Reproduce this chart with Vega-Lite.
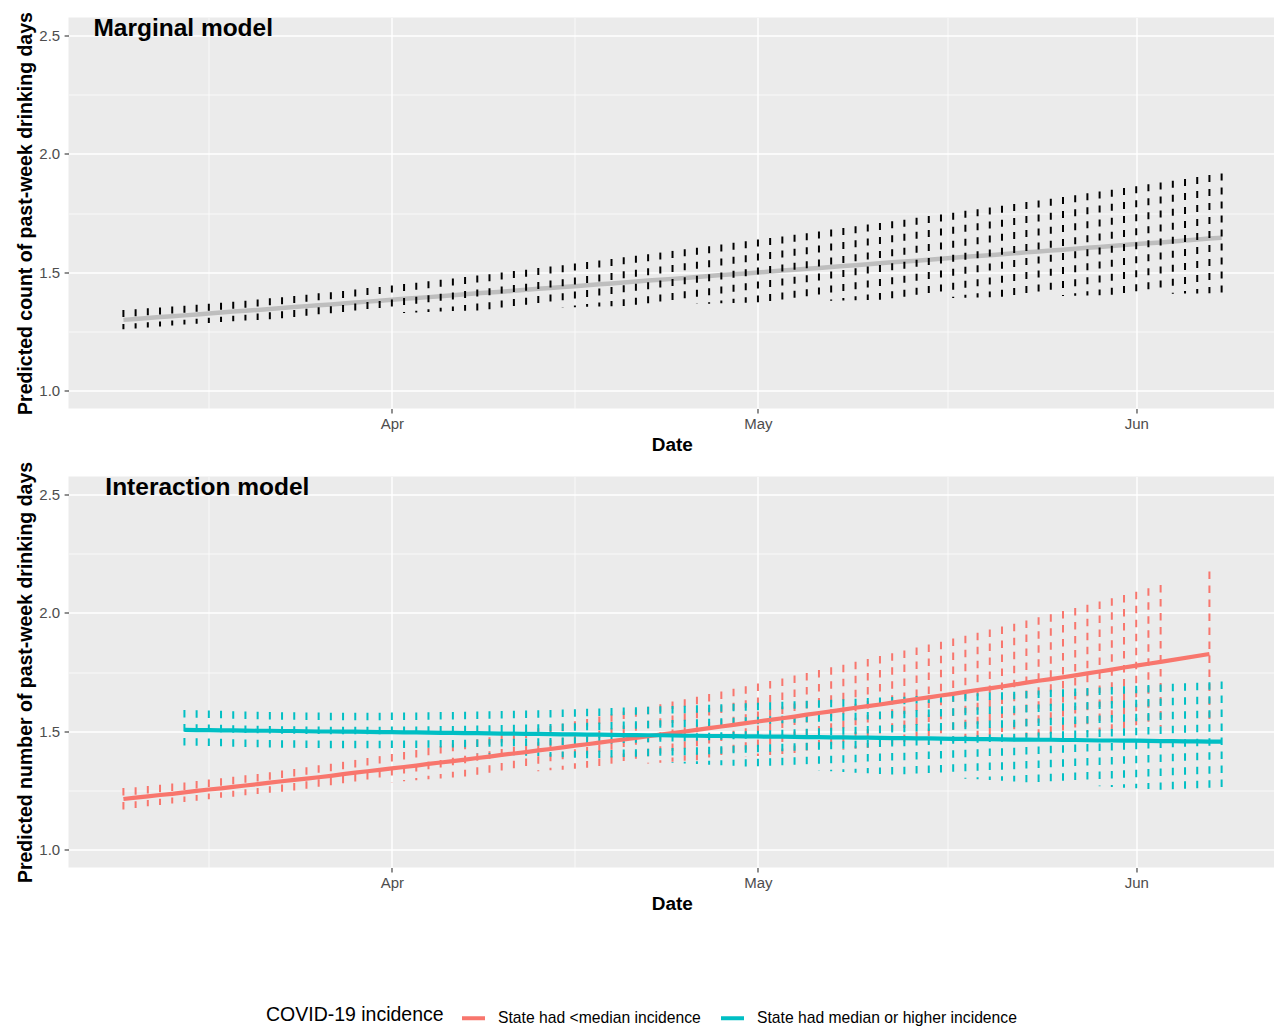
{
"$schema":"https://vega.github.io/schema/vega-lite/v6.json",
"background":"white",
"padding":{"left":15.5,"top":10.5,"right":0,"bottom":114},
"autosize":{"type":"pad"},
"spacing":68,
"bounds":"flush",
"config":{
 "font":"Liberation Sans",
 "view":{"fill":"#EBEBEB","stroke":null},
 "axis":{"domain":false,"labelColor":"#4D4D4D","labelFontSize":15,"labelFont":"Liberation Sans","tickColor":"#333333","tickSize":4.4,"tickWidth":1.1,"titleColor":"#000000","titleFont":"Liberation Sans","titleFontWeight":"bold","titleFontSize":19.5,"gridColor":"#FFFFFF","labelOverlap":false,"labelFlush":false},
 "axisX":{"labelPadding":4,"titlePadding":4,"titleFontSize":19},
 "axisY":{"labelPadding":4.4,"titlePadding":3}
},
"datasets":{
"marginal":[
{"date":"2020-03-10","est":1.299,"lo":1.259,"hi":1.341},
{"date":"2020-03-11","est":1.303,"lo":1.263,"hi":1.344},
{"date":"2020-03-12","est":1.307,"lo":1.267,"hi":1.348},
{"date":"2020-03-13","est":1.311,"lo":1.271,"hi":1.351},
{"date":"2020-03-14","est":1.314,"lo":1.275,"hi":1.355},
{"date":"2020-03-15","est":1.318,"lo":1.279,"hi":1.359},
{"date":"2020-03-16","est":1.322,"lo":1.283,"hi":1.363},
{"date":"2020-03-17","est":1.326,"lo":1.286,"hi":1.367},
{"date":"2020-03-18","est":1.330,"lo":1.290,"hi":1.371},
{"date":"2020-03-19","est":1.334,"lo":1.293,"hi":1.376},
{"date":"2020-03-20","est":1.338,"lo":1.296,"hi":1.380},
{"date":"2020-03-21","est":1.341,"lo":1.299,"hi":1.385},
{"date":"2020-03-22","est":1.345,"lo":1.302,"hi":1.390},
{"date":"2020-03-23","est":1.349,"lo":1.305,"hi":1.395},
{"date":"2020-03-24","est":1.353,"lo":1.307,"hi":1.400},
{"date":"2020-03-25","est":1.357,"lo":1.310,"hi":1.405},
{"date":"2020-03-26","est":1.361,"lo":1.313,"hi":1.411},
{"date":"2020-03-27","est":1.364,"lo":1.315,"hi":1.416},
{"date":"2020-03-28","est":1.368,"lo":1.317,"hi":1.421},
{"date":"2020-03-29","est":1.372,"lo":1.320,"hi":1.427},
{"date":"2020-03-30","est":1.376,"lo":1.322,"hi":1.433},
{"date":"2020-03-31","est":1.380,"lo":1.324,"hi":1.438},
{"date":"2020-04-01","est":1.384,"lo":1.326,"hi":1.444},
{"date":"2020-04-02","est":1.388,"lo":1.328,"hi":1.450},
{"date":"2020-04-03","est":1.391,"lo":1.330,"hi":1.456},
{"date":"2020-04-04","est":1.395,"lo":1.332,"hi":1.462},
{"date":"2020-04-05","est":1.399,"lo":1.334,"hi":1.468},
{"date":"2020-04-06","est":1.403,"lo":1.336,"hi":1.474},
{"date":"2020-04-07","est":1.407,"lo":1.337,"hi":1.480},
{"date":"2020-04-08","est":1.411,"lo":1.339,"hi":1.486},
{"date":"2020-04-09","est":1.415,"lo":1.341,"hi":1.492},
{"date":"2020-04-10","est":1.418,"lo":1.343,"hi":1.499},
{"date":"2020-04-11","est":1.422,"lo":1.344,"hi":1.505},
{"date":"2020-04-12","est":1.426,"lo":1.346,"hi":1.511},
{"date":"2020-04-13","est":1.430,"lo":1.347,"hi":1.518},
{"date":"2020-04-14","est":1.434,"lo":1.349,"hi":1.524},
{"date":"2020-04-15","est":1.438,"lo":1.351,"hi":1.530},
{"date":"2020-04-16","est":1.441,"lo":1.352,"hi":1.537},
{"date":"2020-04-17","est":1.445,"lo":1.354,"hi":1.543},
{"date":"2020-04-18","est":1.449,"lo":1.355,"hi":1.550},
{"date":"2020-04-19","est":1.453,"lo":1.356,"hi":1.556},
{"date":"2020-04-20","est":1.457,"lo":1.358,"hi":1.563},
{"date":"2020-04-21","est":1.461,"lo":1.359,"hi":1.570},
{"date":"2020-04-22","est":1.465,"lo":1.361,"hi":1.576},
{"date":"2020-04-23","est":1.468,"lo":1.362,"hi":1.583},
{"date":"2020-04-24","est":1.472,"lo":1.363,"hi":1.590},
{"date":"2020-04-25","est":1.476,"lo":1.365,"hi":1.597},
{"date":"2020-04-26","est":1.480,"lo":1.366,"hi":1.603},
{"date":"2020-04-27","est":1.484,"lo":1.367,"hi":1.610},
{"date":"2020-04-28","est":1.488,"lo":1.369,"hi":1.617},
{"date":"2020-04-29","est":1.492,"lo":1.370,"hi":1.624},
{"date":"2020-04-30","est":1.495,"lo":1.371,"hi":1.631},
{"date":"2020-05-01","est":1.499,"lo":1.373,"hi":1.638},
{"date":"2020-05-02","est":1.503,"lo":1.374,"hi":1.645},
{"date":"2020-05-03","est":1.507,"lo":1.375,"hi":1.651},
{"date":"2020-05-04","est":1.511,"lo":1.376,"hi":1.658},
{"date":"2020-05-05","est":1.515,"lo":1.377,"hi":1.665},
{"date":"2020-05-06","est":1.518,"lo":1.379,"hi":1.672},
{"date":"2020-05-07","est":1.522,"lo":1.380,"hi":1.680},
{"date":"2020-05-08","est":1.526,"lo":1.381,"hi":1.687},
{"date":"2020-05-09","est":1.530,"lo":1.382,"hi":1.694},
{"date":"2020-05-10","est":1.534,"lo":1.383,"hi":1.701},
{"date":"2020-05-11","est":1.538,"lo":1.384,"hi":1.708},
{"date":"2020-05-12","est":1.542,"lo":1.386,"hi":1.715},
{"date":"2020-05-13","est":1.545,"lo":1.387,"hi":1.722},
{"date":"2020-05-14","est":1.549,"lo":1.388,"hi":1.730},
{"date":"2020-05-15","est":1.553,"lo":1.389,"hi":1.737},
{"date":"2020-05-16","est":1.557,"lo":1.390,"hi":1.744},
{"date":"2020-05-17","est":1.561,"lo":1.391,"hi":1.751},
{"date":"2020-05-18","est":1.565,"lo":1.392,"hi":1.759},
{"date":"2020-05-19","est":1.569,"lo":1.393,"hi":1.766},
{"date":"2020-05-20","est":1.572,"lo":1.394,"hi":1.773},
{"date":"2020-05-21","est":1.576,"lo":1.395,"hi":1.781},
{"date":"2020-05-22","est":1.580,"lo":1.396,"hi":1.788},
{"date":"2020-05-23","est":1.584,"lo":1.397,"hi":1.796},
{"date":"2020-05-24","est":1.588,"lo":1.398,"hi":1.803},
{"date":"2020-05-25","est":1.592,"lo":1.399,"hi":1.810},
{"date":"2020-05-26","est":1.595,"lo":1.400,"hi":1.818},
{"date":"2020-05-27","est":1.599,"lo":1.401,"hi":1.825},
{"date":"2020-05-28","est":1.603,"lo":1.402,"hi":1.833},
{"date":"2020-05-29","est":1.607,"lo":1.403,"hi":1.841},
{"date":"2020-05-30","est":1.611,"lo":1.404,"hi":1.848},
{"date":"2020-05-31","est":1.615,"lo":1.405,"hi":1.856},
{"date":"2020-06-01","est":1.619,"lo":1.406,"hi":1.863},
{"date":"2020-06-02","est":1.622,"lo":1.407,"hi":1.871},
{"date":"2020-06-03","est":1.626,"lo":1.408,"hi":1.879},
{"date":"2020-06-04","est":1.630,"lo":1.409,"hi":1.886},
{"date":"2020-06-05","est":1.634,"lo":1.410,"hi":1.894},
{"date":"2020-06-06","est":1.638,"lo":1.410,"hi":1.902},
{"date":"2020-06-07","est":1.642,"lo":1.411,"hi":1.910},
{"date":"2020-06-08","est":1.646,"lo":1.412,"hi":1.917}
],
"interaction":[
{"date":"2020-03-10","group":"State had <median incidence","est":1.214,"lo":1.170,"hi":1.260},
{"date":"2020-03-11","group":"State had <median incidence","est":1.220,"lo":1.176,"hi":1.264},
{"date":"2020-03-12","group":"State had <median incidence","est":1.225,"lo":1.183,"hi":1.269},
{"date":"2020-03-13","group":"State had <median incidence","est":1.231,"lo":1.189,"hi":1.274},
{"date":"2020-03-14","group":"State had <median incidence","est":1.236,"lo":1.195,"hi":1.279},
{"date":"2020-03-15","group":"State had <median incidence","est":1.242,"lo":1.201,"hi":1.284},
{"date":"2020-03-16","group":"State had <median incidence","est":1.248,"lo":1.207,"hi":1.290},
{"date":"2020-03-17","group":"State had <median incidence","est":1.254,"lo":1.213,"hi":1.296},
{"date":"2020-03-18","group":"State had <median incidence","est":1.259,"lo":1.219,"hi":1.302},
{"date":"2020-03-19","group":"State had <median incidence","est":1.265,"lo":1.224,"hi":1.308},
{"date":"2020-03-20","group":"State had <median incidence","est":1.271,"lo":1.230,"hi":1.314},
{"date":"2020-03-21","group":"State had <median incidence","est":1.277,"lo":1.235,"hi":1.320},
{"date":"2020-03-22","group":"State had <median incidence","est":1.283,"lo":1.240,"hi":1.327},
{"date":"2020-03-23","group":"State had <median incidence","est":1.289,"lo":1.245,"hi":1.334},
{"date":"2020-03-24","group":"State had <median incidence","est":1.295,"lo":1.250,"hi":1.341},
{"date":"2020-03-25","group":"State had <median incidence","est":1.300,"lo":1.255,"hi":1.348},
{"date":"2020-03-26","group":"State had <median incidence","est":1.306,"lo":1.259,"hi":1.356},
{"date":"2020-03-27","group":"State had <median incidence","est":1.312,"lo":1.264,"hi":1.363},
{"date":"2020-03-28","group":"State had <median incidence","est":1.319,"lo":1.268,"hi":1.371},
{"date":"2020-03-29","group":"State had <median incidence","est":1.325,"lo":1.272,"hi":1.379},
{"date":"2020-03-30","group":"State had <median incidence","est":1.331,"lo":1.277,"hi":1.387},
{"date":"2020-03-31","group":"State had <median incidence","est":1.337,"lo":1.281,"hi":1.395},
{"date":"2020-04-01","group":"State had <median incidence","est":1.343,"lo":1.285,"hi":1.404},
{"date":"2020-04-02","group":"State had <median incidence","est":1.349,"lo":1.289,"hi":1.412},
{"date":"2020-04-03","group":"State had <median incidence","est":1.355,"lo":1.293,"hi":1.421},
{"date":"2020-04-04","group":"State had <median incidence","est":1.362,"lo":1.297,"hi":1.430},
{"date":"2020-04-05","group":"State had <median incidence","est":1.368,"lo":1.301,"hi":1.438},
{"date":"2020-04-06","group":"State had <median incidence","est":1.374,"lo":1.305,"hi":1.447},
{"date":"2020-04-07","group":"State had <median incidence","est":1.380,"lo":1.309,"hi":1.456},
{"date":"2020-04-08","group":"State had <median incidence","est":1.387,"lo":1.312,"hi":1.466},
{"date":"2020-04-09","group":"State had <median incidence","est":1.393,"lo":1.316,"hi":1.475},
{"date":"2020-04-10","group":"State had <median incidence","est":1.400,"lo":1.320,"hi":1.484},
{"date":"2020-04-11","group":"State had <median incidence","est":1.406,"lo":1.324,"hi":1.494},
{"date":"2020-04-12","group":"State had <median incidence","est":1.412,"lo":1.327,"hi":1.503},
{"date":"2020-04-13","group":"State had <median incidence","est":1.419,"lo":1.331,"hi":1.513},
{"date":"2020-04-14","group":"State had <median incidence","est":1.425,"lo":1.335,"hi":1.523},
{"date":"2020-04-15","group":"State had <median incidence","est":1.432,"lo":1.338,"hi":1.532},
{"date":"2020-04-16","group":"State had <median incidence","est":1.439,"lo":1.342,"hi":1.542},
{"date":"2020-04-17","group":"State had <median incidence","est":1.445,"lo":1.346,"hi":1.552},
{"date":"2020-04-18","group":"State had <median incidence","est":1.452,"lo":1.349,"hi":1.562},
{"date":"2020-04-19","group":"State had <median incidence","est":1.459,"lo":1.353,"hi":1.572},
{"date":"2020-04-20","group":"State had <median incidence","est":1.465,"lo":1.357,"hi":1.583},
{"date":"2020-04-21","group":"State had <median incidence","est":1.472,"lo":1.360,"hi":1.593},
{"date":"2020-04-22","group":"State had <median incidence","est":1.479,"lo":1.364,"hi":1.603},
{"date":"2020-04-23","group":"State had <median incidence","est":1.486,"lo":1.367,"hi":1.614},
{"date":"2020-04-24","group":"State had <median incidence","est":1.492,"lo":1.371,"hi":1.625},
{"date":"2020-04-25","group":"State had <median incidence","est":1.499,"lo":1.375,"hi":1.635},
{"date":"2020-04-26","group":"State had <median incidence","est":1.506,"lo":1.378,"hi":1.646},
{"date":"2020-04-27","group":"State had <median incidence","est":1.513,"lo":1.382,"hi":1.657},
{"date":"2020-04-28","group":"State had <median incidence","est":1.520,"lo":1.386,"hi":1.668},
{"date":"2020-04-29","group":"State had <median incidence","est":1.527,"lo":1.389,"hi":1.679},
{"date":"2020-04-30","group":"State had <median incidence","est":1.534,"lo":1.393,"hi":1.690},
{"date":"2020-05-01","group":"State had <median incidence","est":1.541,"lo":1.396,"hi":1.701},
{"date":"2020-05-02","group":"State had <median incidence","est":1.548,"lo":1.400,"hi":1.712},
{"date":"2020-05-03","group":"State had <median incidence","est":1.555,"lo":1.404,"hi":1.723},
{"date":"2020-05-04","group":"State had <median incidence","est":1.562,"lo":1.407,"hi":1.735},
{"date":"2020-05-05","group":"State had <median incidence","est":1.570,"lo":1.411,"hi":1.746},
{"date":"2020-05-06","group":"State had <median incidence","est":1.577,"lo":1.415,"hi":1.758},
{"date":"2020-05-07","group":"State had <median incidence","est":1.584,"lo":1.418,"hi":1.770},
{"date":"2020-05-08","group":"State had <median incidence","est":1.591,"lo":1.422,"hi":1.781},
{"date":"2020-05-09","group":"State had <median incidence","est":1.599,"lo":1.426,"hi":1.793},
{"date":"2020-05-10","group":"State had <median incidence","est":1.606,"lo":1.429,"hi":1.805},
{"date":"2020-05-11","group":"State had <median incidence","est":1.613,"lo":1.433,"hi":1.817},
{"date":"2020-05-12","group":"State had <median incidence","est":1.621,"lo":1.436,"hi":1.829},
{"date":"2020-05-13","group":"State had <median incidence","est":1.628,"lo":1.440,"hi":1.841},
{"date":"2020-05-14","group":"State had <median incidence","est":1.636,"lo":1.444,"hi":1.853},
{"date":"2020-05-15","group":"State had <median incidence","est":1.643,"lo":1.448,"hi":1.866},
{"date":"2020-05-16","group":"State had <median incidence","est":1.651,"lo":1.451,"hi":1.878},
{"date":"2020-05-17","group":"State had <median incidence","est":1.658,"lo":1.455,"hi":1.891},
{"date":"2020-05-18","group":"State had <median incidence","est":1.666,"lo":1.459,"hi":1.903},
{"date":"2020-05-19","group":"State had <median incidence","est":1.674,"lo":1.462,"hi":1.916},
{"date":"2020-05-20","group":"State had <median incidence","est":1.681,"lo":1.466,"hi":1.929},
{"date":"2020-05-21","group":"State had <median incidence","est":1.689,"lo":1.470,"hi":1.942},
{"date":"2020-05-22","group":"State had <median incidence","est":1.697,"lo":1.473,"hi":1.954},
{"date":"2020-05-23","group":"State had <median incidence","est":1.705,"lo":1.477,"hi":1.967},
{"date":"2020-05-24","group":"State had <median incidence","est":1.713,"lo":1.481,"hi":1.981},
{"date":"2020-05-25","group":"State had <median incidence","est":1.720,"lo":1.485,"hi":1.994},
{"date":"2020-05-26","group":"State had <median incidence","est":1.728,"lo":1.488,"hi":2.007},
{"date":"2020-05-27","group":"State had <median incidence","est":1.736,"lo":1.492,"hi":2.020},
{"date":"2020-05-28","group":"State had <median incidence","est":1.744,"lo":1.496,"hi":2.034},
{"date":"2020-05-29","group":"State had <median incidence","est":1.752,"lo":1.500,"hi":2.048},
{"date":"2020-05-30","group":"State had <median incidence","est":1.760,"lo":1.504,"hi":2.061},
{"date":"2020-05-31","group":"State had <median incidence","est":1.769,"lo":1.507,"hi":2.075},
{"date":"2020-06-01","group":"State had <median incidence","est":1.777,"lo":1.511,"hi":2.089},
{"date":"2020-06-02","group":"State had <median incidence","est":1.785,"lo":1.515,"hi":2.103},
{"date":"2020-06-03","group":"State had <median incidence","est":1.793,"lo":1.519,"hi":2.117},
{"date":"2020-06-07","group":"State had <median incidence","est":1.826,"lo":1.534,"hi":2.174},
{"date":"2020-03-15","group":"State had median or higher incidence","est":1.506,"lo":1.426,"hi":1.590},
{"date":"2020-03-16","group":"State had median or higher incidence","est":1.505,"lo":1.427,"hi":1.589},
{"date":"2020-03-17","group":"State had median or higher incidence","est":1.505,"lo":1.427,"hi":1.587},
{"date":"2020-03-18","group":"State had median or higher incidence","est":1.504,"lo":1.427,"hi":1.586},
{"date":"2020-03-19","group":"State had median or higher incidence","est":1.504,"lo":1.427,"hi":1.584},
{"date":"2020-03-20","group":"State had median or higher incidence","est":1.503,"lo":1.427,"hi":1.583},
{"date":"2020-03-21","group":"State had median or higher incidence","est":1.502,"lo":1.427,"hi":1.582},
{"date":"2020-03-22","group":"State had median or higher incidence","est":1.502,"lo":1.426,"hi":1.581},
{"date":"2020-03-23","group":"State had median or higher incidence","est":1.501,"lo":1.426,"hi":1.580},
{"date":"2020-03-24","group":"State had median or higher incidence","est":1.501,"lo":1.425,"hi":1.580},
{"date":"2020-03-25","group":"State had median or higher incidence","est":1.500,"lo":1.425,"hi":1.579},
{"date":"2020-03-26","group":"State had median or higher incidence","est":1.499,"lo":1.424,"hi":1.579},
{"date":"2020-03-27","group":"State had median or higher incidence","est":1.499,"lo":1.423,"hi":1.578},
{"date":"2020-03-28","group":"State had median or higher incidence","est":1.498,"lo":1.422,"hi":1.578},
{"date":"2020-03-29","group":"State had median or higher incidence","est":1.498,"lo":1.421,"hi":1.578},
{"date":"2020-03-30","group":"State had median or higher incidence","est":1.497,"lo":1.420,"hi":1.578},
{"date":"2020-03-31","group":"State had median or higher incidence","est":1.496,"lo":1.419,"hi":1.578},
{"date":"2020-04-01","group":"State had median or higher incidence","est":1.496,"lo":1.417,"hi":1.579},
{"date":"2020-04-02","group":"State had median or higher incidence","est":1.495,"lo":1.416,"hi":1.579},
{"date":"2020-04-03","group":"State had median or higher incidence","est":1.495,"lo":1.414,"hi":1.579},
{"date":"2020-04-04","group":"State had median or higher incidence","est":1.494,"lo":1.413,"hi":1.580},
{"date":"2020-04-05","group":"State had median or higher incidence","est":1.493,"lo":1.411,"hi":1.581},
{"date":"2020-04-06","group":"State had median or higher incidence","est":1.493,"lo":1.409,"hi":1.581},
{"date":"2020-04-07","group":"State had median or higher incidence","est":1.492,"lo":1.407,"hi":1.582},
{"date":"2020-04-08","group":"State had median or higher incidence","est":1.492,"lo":1.405,"hi":1.583},
{"date":"2020-04-09","group":"State had median or higher incidence","est":1.491,"lo":1.403,"hi":1.584},
{"date":"2020-04-10","group":"State had median or higher incidence","est":1.490,"lo":1.401,"hi":1.585},
{"date":"2020-04-11","group":"State had median or higher incidence","est":1.490,"lo":1.399,"hi":1.586},
{"date":"2020-04-12","group":"State had median or higher incidence","est":1.489,"lo":1.397,"hi":1.588},
{"date":"2020-04-13","group":"State had median or higher incidence","est":1.489,"lo":1.395,"hi":1.589},
{"date":"2020-04-14","group":"State had median or higher incidence","est":1.488,"lo":1.392,"hi":1.590},
{"date":"2020-04-15","group":"State had median or higher incidence","est":1.487,"lo":1.390,"hi":1.592},
{"date":"2020-04-16","group":"State had median or higher incidence","est":1.487,"lo":1.388,"hi":1.593},
{"date":"2020-04-17","group":"State had median or higher incidence","est":1.486,"lo":1.385,"hi":1.595},
{"date":"2020-04-18","group":"State had median or higher incidence","est":1.486,"lo":1.383,"hi":1.596},
{"date":"2020-04-19","group":"State had median or higher incidence","est":1.485,"lo":1.380,"hi":1.598},
{"date":"2020-04-20","group":"State had median or higher incidence","est":1.484,"lo":1.378,"hi":1.600},
{"date":"2020-04-21","group":"State had median or higher incidence","est":1.484,"lo":1.375,"hi":1.601},
{"date":"2020-04-22","group":"State had median or higher incidence","est":1.483,"lo":1.372,"hi":1.603},
{"date":"2020-04-23","group":"State had median or higher incidence","est":1.483,"lo":1.370,"hi":1.605},
{"date":"2020-04-24","group":"State had median or higher incidence","est":1.482,"lo":1.367,"hi":1.607},
{"date":"2020-04-25","group":"State had median or higher incidence","est":1.481,"lo":1.364,"hi":1.608},
{"date":"2020-04-26","group":"State had median or higher incidence","est":1.481,"lo":1.362,"hi":1.610},
{"date":"2020-04-27","group":"State had median or higher incidence","est":1.480,"lo":1.359,"hi":1.612},
{"date":"2020-04-28","group":"State had median or higher incidence","est":1.480,"lo":1.356,"hi":1.614},
{"date":"2020-04-29","group":"State had median or higher incidence","est":1.479,"lo":1.354,"hi":1.616},
{"date":"2020-04-30","group":"State had median or higher incidence","est":1.478,"lo":1.351,"hi":1.618},
{"date":"2020-05-01","group":"State had median or higher incidence","est":1.478,"lo":1.348,"hi":1.620},
{"date":"2020-05-02","group":"State had median or higher incidence","est":1.477,"lo":1.345,"hi":1.622},
{"date":"2020-05-03","group":"State had median or higher incidence","est":1.477,"lo":1.342,"hi":1.624},
{"date":"2020-05-04","group":"State had median or higher incidence","est":1.476,"lo":1.340,"hi":1.627},
{"date":"2020-05-05","group":"State had median or higher incidence","est":1.475,"lo":1.337,"hi":1.629},
{"date":"2020-05-06","group":"State had median or higher incidence","est":1.475,"lo":1.334,"hi":1.631},
{"date":"2020-05-07","group":"State had median or higher incidence","est":1.474,"lo":1.331,"hi":1.633},
{"date":"2020-05-08","group":"State had median or higher incidence","est":1.474,"lo":1.328,"hi":1.635},
{"date":"2020-05-09","group":"State had median or higher incidence","est":1.473,"lo":1.325,"hi":1.637},
{"date":"2020-05-10","group":"State had median or higher incidence","est":1.473,"lo":1.323,"hi":1.640},
{"date":"2020-05-11","group":"State had median or higher incidence","est":1.472,"lo":1.320,"hi":1.642},
{"date":"2020-05-12","group":"State had median or higher incidence","est":1.471,"lo":1.317,"hi":1.644},
{"date":"2020-05-13","group":"State had median or higher incidence","est":1.471,"lo":1.314,"hi":1.646},
{"date":"2020-05-14","group":"State had median or higher incidence","est":1.470,"lo":1.311,"hi":1.649},
{"date":"2020-05-15","group":"State had median or higher incidence","est":1.470,"lo":1.308,"hi":1.651},
{"date":"2020-05-16","group":"State had median or higher incidence","est":1.469,"lo":1.305,"hi":1.653},
{"date":"2020-05-17","group":"State had median or higher incidence","est":1.468,"lo":1.302,"hi":1.656},
{"date":"2020-05-18","group":"State had median or higher incidence","est":1.468,"lo":1.300,"hi":1.658},
{"date":"2020-05-19","group":"State had median or higher incidence","est":1.467,"lo":1.297,"hi":1.660},
{"date":"2020-05-20","group":"State had median or higher incidence","est":1.467,"lo":1.294,"hi":1.663},
{"date":"2020-05-21","group":"State had median or higher incidence","est":1.466,"lo":1.291,"hi":1.665},
{"date":"2020-05-22","group":"State had median or higher incidence","est":1.465,"lo":1.288,"hi":1.667},
{"date":"2020-05-23","group":"State had median or higher incidence","est":1.465,"lo":1.285,"hi":1.670},
{"date":"2020-05-24","group":"State had median or higher incidence","est":1.464,"lo":1.282,"hi":1.672},
{"date":"2020-05-25","group":"State had median or higher incidence","est":1.464,"lo":1.279,"hi":1.675},
{"date":"2020-05-26","group":"State had median or higher incidence","est":1.463,"lo":1.276,"hi":1.677},
{"date":"2020-05-27","group":"State had median or higher incidence","est":1.463,"lo":1.274,"hi":1.680},
{"date":"2020-05-28","group":"State had median or higher incidence","est":1.462,"lo":1.271,"hi":1.682},
{"date":"2020-05-29","group":"State had median or higher incidence","est":1.461,"lo":1.268,"hi":1.685},
{"date":"2020-05-30","group":"State had median or higher incidence","est":1.461,"lo":1.265,"hi":1.687},
{"date":"2020-05-31","group":"State had median or higher incidence","est":1.460,"lo":1.262,"hi":1.690},
{"date":"2020-06-01","group":"State had median or higher incidence","est":1.460,"lo":1.259,"hi":1.692},
{"date":"2020-06-02","group":"State had median or higher incidence","est":1.459,"lo":1.256,"hi":1.695},
{"date":"2020-06-03","group":"State had median or higher incidence","est":1.458,"lo":1.253,"hi":1.697},
{"date":"2020-06-04","group":"State had median or higher incidence","est":1.458,"lo":1.251,"hi":1.700},
{"date":"2020-06-05","group":"State had median or higher incidence","est":1.457,"lo":1.248,"hi":1.702},
{"date":"2020-06-06","group":"State had median or higher incidence","est":1.457,"lo":1.245,"hi":1.705},
{"date":"2020-06-07","group":"State had median or higher incidence","est":1.456,"lo":1.242,"hi":1.707},
{"date":"2020-06-08","group":"State had median or higher incidence","est":1.456,"lo":1.239,"hi":1.710}
]
},
"vconcat":[
{
 "width":1206.7,"height":391,
 "layer":[
  {"data":{"name":"marginal"},
   "mark":{"type":"line","color":"#BEBEBE","strokeWidth":4.5},
   "encoding":{
    "x":{"field":"date","type":"temporal","title":"Date",
      "scale":{"type":"utc","domain":[{"year":2020,"month":3,"date":5,"hours":12,"utc":true},{"year":2020,"month":6,"date":12,"hours":9,"minutes":20,"utc":true}]},
      "axis":{"values":[{"year":2020,"month":3,"date":17,"utc":true},{"year":2020,"month":4,"date":1,"utc":true},{"year":2020,"month":4,"date":16,"utc":true},{"year":2020,"month":5,"date":1,"utc":true},{"year":2020,"month":5,"date":16,"hours":12,"utc":true},{"year":2020,"month":6,"date":1,"utc":true}],
        "labelExpr":"(utcdate(datum.value)==1) ? utcFormat(datum.value,'%b') : ''",
        "gridWidth":{"condition":{"test":"utcdate(datum.value)==1","value":1.4},"value":0.7},
        "tickOpacity":{"condition":{"test":"utcdate(datum.value)==1","value":1},"value":0}}},
    "y":{"field":"est","type":"quantitative","title":"Predicted count of past-week drinking days",
      "scale":{"domain":[0.925,2.575],"nice":false,"zero":false},
      "axis":{"values":[1,1.25,1.5,1.75,2,2.25,2.5],
        "labelExpr":"((datum.value*4)%2==0) ? format(datum.value,'.1f') : ''",
        "gridWidth":{"condition":{"test":"(datum.value*4)%2==0","value":1.4},"value":0.7},
        "tickOpacity":{"condition":{"test":"(datum.value*4)%2==0","value":1},"value":0}}}
   }},
  {"data":{"name":"marginal"},
   "mark":{"type":"rule","color":"#000000","strokeWidth":2,"strokeDash":[7,7]},
   "encoding":{
    "x":{"field":"date","type":"temporal","title":"Date","scale":{"type":"utc","domain":[{"year":2020,"month":3,"date":5,"hours":12,"utc":true},{"year":2020,"month":6,"date":12,"hours":9,"minutes":20,"utc":true}]}},
    "y":{"field":"hi","type":"quantitative","title":"Predicted count of past-week drinking days","scale":{"domain":[0.925,2.575],"nice":false,"zero":false}},
    "y2":{"field":"lo"}
   }},
  {"data":{"values":[{"date":"2020-03-07T13:00:00Z","est":2.495,"label":"Marginal model"}]},
   "mark":{"type":"text","align":"left","baseline":"alphabetic","fontSize":24.5,"fontWeight":"bold","font":"Liberation Sans","color":"#000000"},
   "encoding":{
    "x":{"field":"date","type":"temporal","title":"Date","scale":{"type":"utc","domain":[{"year":2020,"month":3,"date":5,"hours":12,"utc":true},{"year":2020,"month":6,"date":12,"hours":9,"minutes":20,"utc":true}]}},
    "y":{"field":"est","type":"quantitative","title":"Predicted count of past-week drinking days","scale":{"domain":[0.925,2.575],"nice":false,"zero":false}},
    "text":{"field":"label"}
   }}
 ]
},
{
 "width":1206.7,"height":391,
 "layer":[
  {"data":{"name":"interaction"},
   "mark":{"type":"rule","strokeWidth":2,"strokeDash":[7.5,6.5]},
   "encoding":{
    "x":{"field":"date","type":"temporal","title":"Date",
      "scale":{"type":"utc","domain":[{"year":2020,"month":3,"date":5,"hours":12,"utc":true},{"year":2020,"month":6,"date":12,"hours":9,"minutes":20,"utc":true}]},
      "axis":{"values":[{"year":2020,"month":3,"date":17,"utc":true},{"year":2020,"month":4,"date":1,"utc":true},{"year":2020,"month":4,"date":16,"utc":true},{"year":2020,"month":5,"date":1,"utc":true},{"year":2020,"month":5,"date":16,"hours":12,"utc":true},{"year":2020,"month":6,"date":1,"utc":true}],
        "labelExpr":"(utcdate(datum.value)==1) ? utcFormat(datum.value,'%b') : ''",
        "gridWidth":{"condition":{"test":"utcdate(datum.value)==1","value":1.4},"value":0.7},
        "tickOpacity":{"condition":{"test":"utcdate(datum.value)==1","value":1},"value":0}}},
    "y":{"field":"hi","type":"quantitative","title":"Predicted number of past-week drinking days",
      "scale":{"domain":[0.925,2.575],"nice":false,"zero":false},
      "axis":{"values":[1,1.25,1.5,1.75,2,2.25,2.5],
        "labelExpr":"((datum.value*4)%2==0) ? format(datum.value,'.1f') : ''",
        "gridWidth":{"condition":{"test":"(datum.value*4)%2==0","value":1.4},"value":0.7},
        "tickOpacity":{"condition":{"test":"(datum.value*4)%2==0","value":1},"value":0}}},
    "y2":{"field":"lo"},
    "stroke":{"field":"group","type":"nominal","scale":{"range":["#F8766D","#00BFC4"]},"legend":null}
   }},
  {"data":{"name":"interaction"},
   "mark":{"type":"line","strokeWidth":4.2},
   "encoding":{
    "x":{"field":"date","type":"temporal","title":"Date","scale":{"type":"utc","domain":[{"year":2020,"month":3,"date":5,"hours":12,"utc":true},{"year":2020,"month":6,"date":12,"hours":9,"minutes":20,"utc":true}]}},
    "y":{"field":"est","type":"quantitative","title":"Predicted number of past-week drinking days","scale":{"domain":[0.925,2.575],"nice":false,"zero":false}},
    "color":{"field":"group","type":"nominal",
      "scale":{"domain":["State had <median incidence","State had median or higher incidence"],"range":["#F8766D","#00BFC4"]},
      "legend":{"title":"COVID-19 incidence","orient":"none","legendX":197.5,"legendY":987,"direction":"horizontal","titleOrient":"left","titleFontSize":19.5,"titleFontWeight":"normal","titleColor":"#000000","titlePadding":16,"labelFontSize":15.7,"labelColor":"#000000","labelOffset":11,"labelLimit":0,"symbolType":"stroke","symbolStrokeWidth":4,"symbolSize":529,"columnPadding":12}}
   }},
  {"data":{"values":[{"date":"2020-03-08T12:30:00Z","est":2.497,"label":"Interaction model"}]},
   "mark":{"type":"text","align":"left","baseline":"alphabetic","fontSize":24.5,"fontWeight":"bold","font":"Liberation Sans","color":"#000000"},
   "encoding":{
    "x":{"field":"date","type":"temporal","title":"Date","scale":{"type":"utc","domain":[{"year":2020,"month":3,"date":5,"hours":12,"utc":true},{"year":2020,"month":6,"date":12,"hours":9,"minutes":20,"utc":true}]}},
    "y":{"field":"est","type":"quantitative","title":"Predicted number of past-week drinking days","scale":{"domain":[0.925,2.575],"nice":false,"zero":false}},
    "text":{"field":"label"}
   }}
 ]
}
]
}
